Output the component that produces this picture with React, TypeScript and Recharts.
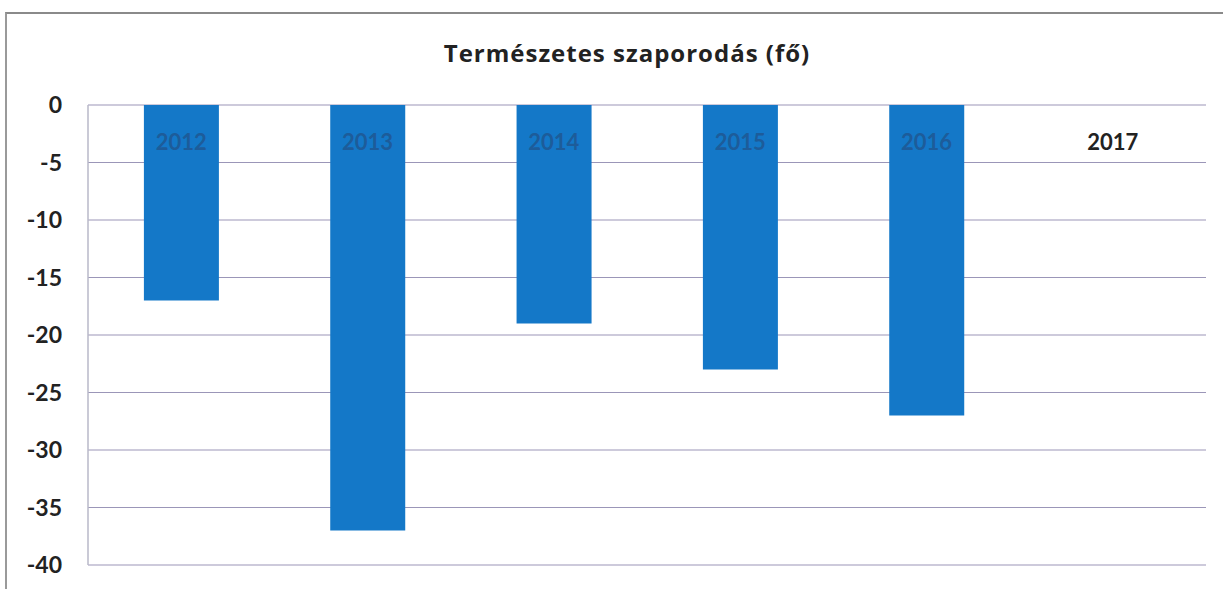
import React from "react";
import { BarChart, Bar, XAxis, YAxis, CartesianGrid } from "recharts";

const years = ["2012", "2013", "2014", "2015", "2016", "2017"];
const values = [-17, -37, -19, -23, -27, 0];
const yTicks = [0, -5, -10, -15, -20, -25, -30, -35, -40];
const title = "Természetes szaporodás (fő)";

const data = years.map((y, i) => ({ year: y, value: values[i] }));

const FONT = "Lato, 'Open Sans', sans-serif";
const LABEL_BASELINE = 150;

const YearTick = (props: any) => {
  const { x, payload, index } = props;
  const v = values[index];
  const fill = v === 0 ? "#222222" : "#1d5c9a";
  return (
    <text
      x={x}
      y={LABEL_BASELINE}
      textAnchor="middle"
      fontFamily={FONT}
      fontWeight={700}
      fontSize={22}
      fill={fill}
    >
      {payload.value}
    </text>
  );
};

export default function App() {
  return (
    <div style={{ position: "absolute", left: 0, top: 0, width: 1223, height: 589, background: "#fff" }}>
      <div
        style={{
          position: "absolute",
          left: 5,
          top: 12,
          width: 1218,
          height: 577,
          borderLeft: "2px solid #9a9a9a",
          borderTop: "2px solid #8a8a8a",
        }}
      />
      <div
        style={{
          position: "absolute",
          left: 0,
          top: 37,
          width: 1254,
          textAlign: "center",
          fontFamily: "'Open Sans', sans-serif",
          fontWeight: 700,
          fontSize: 24,
          letterSpacing: "1px",
          lineHeight: "32px",
          color: "#222",
          whiteSpace: "nowrap",
        }}
      >
        {title}
      </div>
      <div style={{ position: "absolute", left: 0, top: 0 }}>
        <BarChart
          width={1223}
          height={589}
          data={data}
          margin={{ top: 104, right: 17, bottom: 24, left: 8 }}
          barCategoryGap="30%"
        >
          <CartesianGrid vertical={false} stroke="#9b96b8" strokeWidth={1.2} />
          <XAxis
            dataKey="year"
            orientation="top"
            height={1}
            axisLine={false}
            tickLine={false}
            interval={0}
            tick={<YearTick />}
          />
          <YAxis
            width={80}
            domain={[-40, 0]}
            ticks={yTicks}
            interval={0}
            tickLine={false}
            axisLine={{ stroke: "#b8b8c8", strokeWidth: 1.5 }}
            tick={{ fontFamily: FONT, fontWeight: 700, fontSize: 23, fill: "#222" }}
            tickMargin={20}
          />
          <Bar dataKey="value" fill="#1478c8" isAnimationActive={false} />
        </BarChart>
      </div>
    </div>
  );
}
